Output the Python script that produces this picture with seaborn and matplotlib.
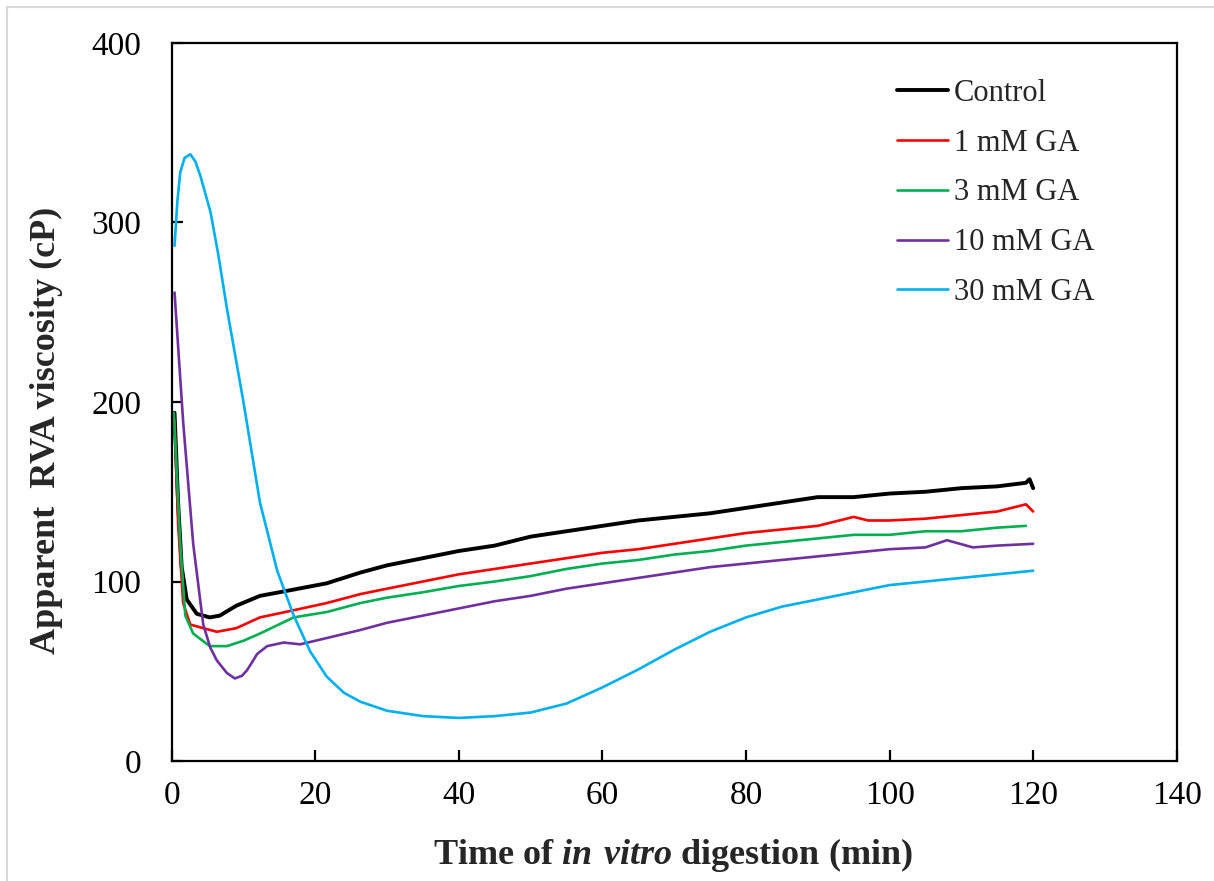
import numpy as np
import pandas as pd
import matplotlib
matplotlib.use("Agg")
import matplotlib.pyplot as plt
import seaborn as sns
from matplotlib.lines import Line2D

# values (time in min, viscosity in cP)
control_t = [0.4, 0.9, 1.4, 2.1, 3.5, 5.3, 6.7, 9, 12.3, 17, 21.6, 26.3, 30, 35, 40, 45,
             50, 55, 60, 65, 70, 75, 80, 85, 90, 95, 100, 105, 110, 115, 119, 119.5, 120]
control_v = [194, 144, 108, 90, 82, 80, 81, 86.5, 92, 95.5, 99, 105, 109, 113, 117, 120,
             125, 128, 131, 134, 136, 138, 141, 144, 147, 147, 149, 150, 152, 153, 155, 157, 152]

ga1_t = [0.4, 0.9, 1.6, 2.6, 4.4, 6.3, 9, 12.3, 17, 21.6, 26.3, 30, 35, 40, 45, 50, 55,
         60, 65, 70, 75, 80, 85, 90, 95, 97, 100, 105, 110, 115, 119, 120]
ga1_v = [190, 132, 88, 76, 74, 72, 74, 80, 84, 88, 93, 96, 100, 104, 107, 110, 113,
         116, 118, 121, 124, 127, 129, 131, 136, 134, 134, 135, 137, 139, 143, 139]

ga3_t = [0.3, 0.6, 1.2, 1.9, 3, 5.3, 7.7, 10, 12.3, 17, 21.6, 26.3, 30, 35, 40, 45, 50,
         55, 60, 65, 70, 75, 80, 85, 90, 95, 100, 105, 110, 115, 119]
ga3_v = [194, 170, 121, 81, 71, 64, 64, 67, 71, 80, 83, 88, 91, 94, 97.5, 100, 103,
         107, 110, 112, 115, 117, 120, 122, 124, 126, 126, 128, 128, 130, 131]

ga10_t = [0.4, 1.6, 3, 4.4, 5.4, 6.3, 7.7, 8.8, 9.8, 10.5, 11.2, 11.9, 13.3, 15.6, 17.9,
          21.6, 26.3, 30, 35, 40, 45, 50, 55, 60, 65, 70, 75, 80, 85, 90, 95, 100, 105,
          108, 111.6, 115, 120]
ga10_v = [261, 189, 121, 76, 63, 56, 49, 46, 47.5, 50.6, 55, 59.6, 64, 66, 65,
          68.5, 73, 77, 81, 85, 89, 92, 96, 99, 102, 105, 108, 110, 112, 114, 116, 118, 119,
          123, 119, 120, 121]

ga30_t = [0.4, 0.8, 1.2, 1.8, 2.6, 3.3, 4, 5.4, 6.5, 7.7, 10, 12.3, 14.7, 17, 19.3, 21.6,
          24, 26.3, 30, 35, 40, 45, 50, 55, 60, 65, 70, 75, 80, 85, 90, 95, 100, 105, 110,
          115, 120]
ga30_v = [287, 312, 328, 336, 338, 334, 326, 306, 282, 252, 200, 144, 106, 81, 61, 47,
          38, 33, 28, 25, 24, 25, 27, 32, 41, 51, 62, 72, 80, 86, 90, 94, 98, 100, 102,
          104, 106]

series_names = ["Control", "1 mM GA", "3 mM GA", "10 mM GA", "30 mM GA"]
series_t = [control_t, ga1_t, ga3_t, ga10_t, ga30_t]
series_v = [control_v, ga1_v, ga3_v, ga10_v, ga30_v]
series_colors = ["#000000", "#FF0000", "#00B050", "#7030A0", "#00B0F0"]
series_widths = [2.8, 1.9, 1.9, 1.9, 1.9]

sns.set_style("white")
plt.rcParams["font.family"] = ["Liberation Serif", "DejaVu Serif"]
plt.rcParams["mathtext.fontset"] = "custom"
plt.rcParams["mathtext.rm"] = "Liberation Serif:bold"
plt.rcParams["mathtext.bfit"] = "Liberation Serif:italic:bold"

fig = plt.figure(figsize=(12.14, 8.81), dpi=100)
ax = fig.add_axes([0.1414, 0.1362, 0.8279, 0.815])

for name, t, v, color, lw in zip(series_names, series_t, series_v, series_colors, series_widths):
    df = pd.DataFrame({"time": t, "viscosity": v})
    sns.lineplot(data=df, x="time", y="viscosity", ax=ax, color=color,
                 linewidth=lw, label=name, sort=False, estimator=None)

ax.set_xlim(0, 140)
ax.set_ylim(0, 400)
ax.set_xticks(np.arange(0, 141, 20))
ax.set_yticks(np.arange(0, 401, 100))

for side in ["left", "right", "top", "bottom"]:
    ax.spines[side].set_visible(True)
    ax.spines[side].set_color("black")
    ax.spines[side].set_linewidth(1.6)

ax.tick_params(axis="both", direction="in", length=8, width=1.6, labelsize=24,
               left=True, bottom=True, colors="black")
ax.tick_params(axis="y", pad=22)
ax.tick_params(axis="x", pad=14)

ax.set_xlabel("Time of $\\mathbfit{in\\ vitro}$ digestion (min)", fontsize=26,
              fontweight="bold")
ax.xaxis.set_label_coords(0.4985, -0.104)
ax.set_ylabel("Apparent  RVA viscosity (cP)", fontsize=26, fontweight="bold")
ax.yaxis.set_label_coords(-0.108, 0.46)

ax.legend(loc="upper left", bbox_to_anchor=(0.722, 0.950), frameon=False, fontsize=22,
          handlelength=1.65, handletextpad=0.2, labelspacing=0.68, borderpad=0,
          borderaxespad=0)

# light grey frame only on top and left edges, as in the reference
fig.add_artist(Line2D([7 / 1214, 1], [1 - 7 / 881, 1 - 7 / 881], transform=fig.transFigure,
                      color="#d9d9d9", linewidth=1.5))
fig.add_artist(Line2D([7 / 1214, 7 / 1214], [0, 1 - 7 / 881], transform=fig.transFigure,
                      color="#d9d9d9", linewidth=1.5))

fig.savefig("out.png", dpi=100)
